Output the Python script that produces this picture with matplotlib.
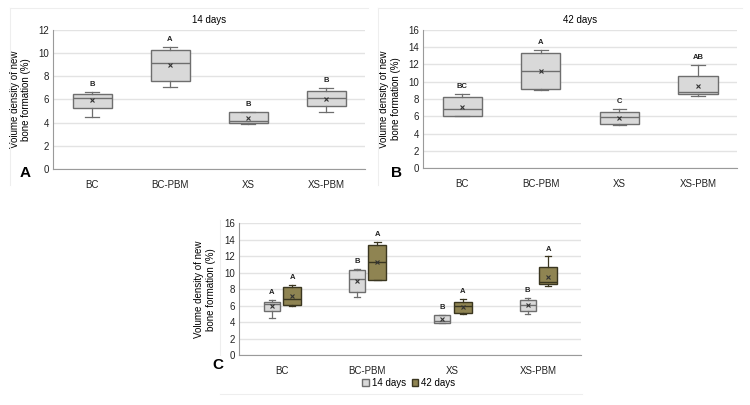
import matplotlib
matplotlib.use("Agg")
import matplotlib.pyplot as plt
from matplotlib.patches import Patch
from matplotlib.lines import Line2D

plt.rcParams['font.family'] = ['Liberation Sans', 'DejaVu Sans']

groups = ["BC", "BC-PBM", "XS", "XS-PBM"]

# 14 days: whisker low, Q1, median, Q3, whisker high, mean
d14_low = [4.5, 7.1, 3.88, 4.95]
d14_q1 = [5.3, 7.6, 3.94, 5.4]
d14_med = [6.15, 9.18, 4.17, 6.1]
d14_q3 = [6.47, 10.27, 4.92, 6.72]
d14_high = [6.68, 10.5, 4.92, 6.96]
d14_mean = [5.96, 8.98, 4.37, 6.04]
d14_letters = ["B", "A", "B", "B"]
d14_letters_c = ["A", "B", "B", "B"]

# 42 days
d42_low = [6.0, 9.1, 4.96, 8.37]
d42_q1 = [6.08, 9.15, 5.15, 8.6]
d42_med = [6.86, 11.24, 5.97, 8.83]
d42_q3 = [8.22, 13.3, 6.47, 10.65]
d42_high = [8.53, 13.7, 6.86, 11.97]
d42_mean = [7.13, 11.24, 5.85, 9.53]
d42_letters = ["BC", "A", "C", "AB"]
d42_letters_c = ["A", "A", "A", "A"]

ylabel = "Volume density of new\nbone formation (%)"
grey_fill = "#D9D9D9"
grey_edge = "#6E6E6E"
olive_fill = "#8F8452"
olive_edge = "#3A3620"


def stats(low, q1, med, q3, high, mean):
    out = []
    for i in range(len(low)):
        out.append(dict(whislo=low[i], q1=q1[i], med=med[i], q3=q3[i],
                        whishi=high[i], mean=mean[i], fliers=[]))
    return out


def draw(ax, st, positions, width, fill, edge, letters, lsize=5.5):
    ax.bxp(st, positions=positions, widths=width, showmeans=True,
           patch_artist=True, showfliers=False,
           boxprops=dict(facecolor=fill, edgecolor=edge, linewidth=1.0),
           medianprops=dict(color=edge, linewidth=1.0),
           whiskerprops=dict(color=edge, linewidth=0.9),
           capprops=dict(color=edge, linewidth=0.9),
           capwidths=width * 0.35,
           meanprops=dict(marker="x", markeredgecolor="#333333",
                          markersize=3.5, markeredgewidth=0.8))
    for p, s, l in zip(positions, st, letters):
        ax.text(p, s["whishi"] + 0.35 * (ax.get_ylim()[1] / 12), l,
                ha="center", va="bottom", fontsize=lsize,
                fontweight="bold", color="#222222")


def style(ax, ymax, step):
    ax.set_ylim(0, ymax)
    ax.set_yticks(range(0, ymax + 1, step))
    ax.yaxis.grid(True, color="#E3E3E3", linewidth=1.0)
    ax.set_axisbelow(True)
    for s in ["top", "right"]:
        ax.spines[s].set_visible(False)
    for s in ["left", "bottom"]:
        ax.spines[s].set_color("#9A9A9A")
        ax.spines[s].set_linewidth(0.8)
    ax.tick_params(axis="both", labelsize=7, length=0, pad=3,
                   colors="#222222")
    ax.tick_params(axis="x", pad=8)


def finish_x(ax):
    ax.set_xlim(-0.5, 3.5)
    ax.set_xticks(range(4))
    ax.set_xticklabels(groups)


def fline(x0, y0, x1, y1):
    fig.add_artist(Line2D([x0 / 750, x1 / 750], [1 - y0 / 405, 1 - y1 / 405],
                          transform=fig.transFigure, color="#EEEEEE",
                          linewidth=0.8))


fig = plt.figure(figsize=(7.5, 4.05), dpi=100)

# faint panel frame edges
fline(10, 8, 368, 8)
fline(10, 8, 10, 185)
fline(378, 8, 742, 8)
fline(378, 8, 378, 185)
fline(220, 220, 220, 355)
fline(220, 394, 582, 394)

# Panel A
axA = fig.add_axes([0.0707, 0.583, 0.416, 0.343])
style(axA, 12, 2)
draw(axA, stats(d14_low, d14_q1, d14_med, d14_q3, d14_high, d14_mean),
     list(range(4)), 0.5, grey_fill, grey_edge, d14_letters)
finish_x(axA)
axA.set_title("14 days", fontsize=7, pad=5)
axA.set_ylabel(ylabel, fontsize=7, labelpad=5)
fig.text(0.026, 0.563, "A", fontsize=11, fontweight="bold")

# Panel B
axB = fig.add_axes([0.564, 0.585, 0.419, 0.341])
style(axB, 16, 2)
draw(axB, stats(d42_low, d42_q1, d42_med, d42_q3, d42_high, d42_mean),
     list(range(4)), 0.5, grey_fill, grey_edge, d42_letters)
finish_x(axB)
axB.set_title("42 days", fontsize=7, pad=5)
axB.set_ylabel(ylabel, fontsize=7, labelpad=5)
fig.text(0.522, 0.563, "B", fontsize=11, fontweight="bold")

# Panel C
axC = fig.add_axes([0.319, 0.123, 0.455, 0.326])
style(axC, 16, 2)
off = 0.12
draw(axC, stats(d14_low, d14_q1, d14_med, d14_q3, d14_high, d14_mean),
     [i - off for i in range(4)], 0.19, grey_fill, grey_edge, d14_letters_c)
draw(axC, stats(d42_low, d42_q1, d42_med, d42_q3, d42_high, d42_mean),
     [i + off for i in range(4)], 0.21, olive_fill, olive_edge, d42_letters_c)
finish_x(axC)
axC.set_ylabel(ylabel, fontsize=7, labelpad=6)
fig.text(0.283, 0.088, "C", fontsize=11, fontweight="bold")
handles = [Patch(facecolor=grey_fill, edgecolor=grey_edge, label="14 days"),
           Patch(facecolor=olive_fill, edgecolor=olive_edge, label="42 days")]
fig.legend(handles=handles, loc="center", bbox_to_anchor=(0.545, 0.054),
           ncol=2, frameon=False, fontsize=7, handlelength=0.7,
           handleheight=0.7, handletextpad=0.3, columnspacing=0.6)

fig.savefig("out.png", dpi=100)
